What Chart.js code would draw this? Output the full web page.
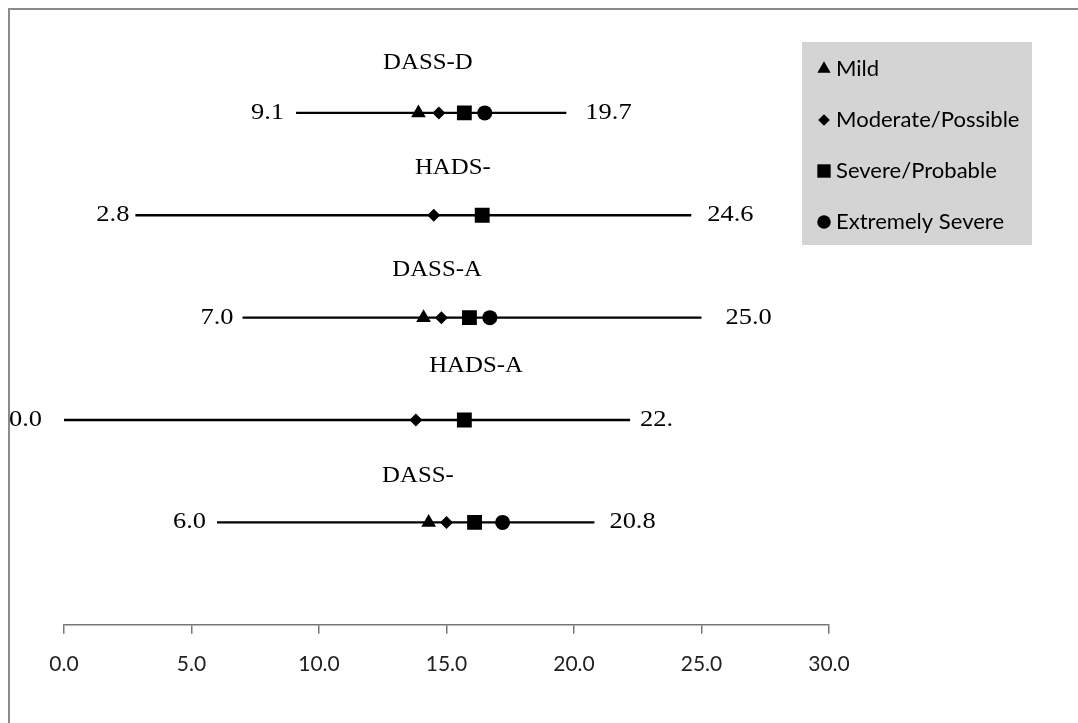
<!DOCTYPE html>
<html>
<head>
<meta charset="utf-8">
<script src="https://cdn.jsdelivr.net/npm/chart.js@4.4.1/dist/chart.umd.min.js"></script>
<style>
  html, body { margin: 0; padding: 0; background: #fff; }
  #wrap { position: relative; width: 1078px; height: 723px; }
</style>
</head>
<body>
<div id="wrap"><canvas id="ciChart"></canvas></div>
<script>
// scales, top row first
const scaleNames = ['DASS-D', 'HADS-', 'DASS-A', 'HADS-A', 'DASS-'];
const rowPos = [5, 4, 3, 2, 1];
const lowValues = [9.1, 2.8, 7.0, 0.0, 6.0];
const highValues = [19.7, 24.6, 25.0, 22.2, 20.8];
const lowLabels = ['9.1', '2.8', '7.0', '0.0', '6.0'];
const highLabels = ['19.7', '24.6', '25.0', '22.', '20.8'];

// cut-off points per severity level (null = level not defined for that scale)
const mildValues = [13.9, null, 14.1, null, 14.3];
const moderateValues = [14.7, 14.5, 14.8, 13.8, 15.0];
const severeValues = [15.7, 16.4, 15.9, 15.7, 16.1];
const extremeValues = [16.5, null, 16.7, null, 17.2];

const xTicks = [0, 5, 10, 15, 20, 25, 30];

const serif = "'Liberation Serif', 'Times New Roman', serif";
const sans = "Lato, 'Open Sans', sans-serif";

function pts(vals) {
    return vals.map((v, i) => v === null ? null : {x: v, y: rowPos[i]}).filter(p => p);
}

const levels = [
    {label: 'Mild', data: mildValues, style: 'triangle', r: 8.5},
    {label: 'Moderate/Possible', data: moderateValues, style: 'rectRot', r: 6.5},
    {label: 'Severe/Probable', data: severeValues, style: 'rect', r: 10.5},
    {label: 'Extremely Severe', data: extremeValues, style: 'circle', r: 7.5}
];

const markerSets = levels.map(l => ({
    label: l.label,
    data: pts(l.data),
    showLine: false,
    pointStyle: l.style,
    pointRadius: l.r,
    pointHoverRadius: l.r,
    backgroundColor: '#000',
    borderColor: '#000',
    borderWidth: 0,
    order: 1
}));

const rangeSets = scaleNames.map((n, i) => ({
    label: n,
    data: [{x: lowValues[i], y: rowPos[i]}, {x: highValues[i], y: rowPos[i]}],
    showLine: true,
    pointRadius: 0,
    borderColor: '#000',
    borderWidth: 2.4,
    order: 2
}));

// stretched text, the original picture is a little wide
function wideText(ctx, txt, px, py, sx) {
    ctx.save();
    ctx.translate(px, py);
    ctx.scale(sx, 1);
    ctx.fillText(txt, 0, 0);
    ctx.restore();
}

// text around each range
const rangeText = {
    id: 'rangeText',
    afterDatasetsDraw(chart) {
        const {ctx, scales: {x, y}} = chart;
        const titleAt = [14.27, 15.25, 14.63, 16.16, 13.88];
        const titleDy = [-50, -47, -48, -54, -46];
        const leftGap = [12, 6, 9, 22, 11];
        const rightGap = [19, 16, 24, 10, 15];
        ctx.save();
        ctx.fillStyle = '#000';
        ctx.font = '23px ' + serif;
        ctx.textBaseline = 'middle';
        scaleNames.forEach((n, i) => {
            const py = y.getPixelForValue(rowPos[i]);
            ctx.textAlign = 'center';
            wideText(ctx, n, x.getPixelForValue(titleAt[i]), py + titleDy[i], 1.08);
            ctx.textAlign = 'right';
            wideText(ctx, lowLabels[i], x.getPixelForValue(lowValues[i]) - leftGap[i], py, 1.15);
            ctx.textAlign = 'left';
            wideText(ctx, highLabels[i], x.getPixelForValue(highValues[i]) + rightGap[i], py, 1.15);
        });
        ctx.restore();
    }
};

// grey legend box and the frame
const boxLegend = {
    id: 'boxLegend',
    beforeDraw(chart) {
        const ctx = chart.ctx;
        ctx.save();
        ctx.strokeStyle = '#8a8a8a';
        ctx.lineWidth = 2;
        ctx.beginPath();
        ctx.moveTo(9, 723);
        ctx.lineTo(9, 9);
        ctx.lineTo(1078, 9);
        ctx.stroke();
        ctx.restore();
    },
    afterDraw(chart) {
        const ctx = chart.ctx;
        ctx.save();
        ctx.fillStyle = '#d4d4d4';
        ctx.fillRect(802, 42, 230, 203);
        ctx.font = '21px ' + sans;
        ctx.textBaseline = 'middle';
        ctx.textAlign = 'left';
        levels.forEach((l, i) => {
            const cy = 69 + i * 51;
            ctx.fillStyle = '#000';
            ctx.strokeStyle = '#000';
            Chart.helpers.drawPoint(ctx, {pointStyle: l.style, radius: l.r * 0.9, borderWidth: 0}, 824, cy);
            ctx.fillStyle = '#000';
            wideText(ctx, l.label, 836, cy, 1.05);
        });
        ctx.restore();
    }
};

new Chart(document.getElementById('ciChart'), {
    type: 'scatter',
    data: {datasets: [...markerSets, ...rangeSets]},
    options: {
        responsive: true,
        maintainAspectRatio: false,
        animation: false,
        layout: {padding: {left: 64, right: 249, top: 9, bottom: 28}},
        plugins: {legend: {display: false}, tooltip: {enabled: false}},
        scales: {
            x: {
                type: 'linear',
                min: 0,
                max: 30,
                afterBuildTicks: s => { s.ticks = xTicks.map(v => ({value: v})); },
                grid: {drawOnChartArea: false, drawTicks: true, tickLength: 9, color: '#777', lineWidth: 1.5},
                border: {color: '#777', width: 1.5},
                ticks: {
                    padding: 18,
                    color: '#222',
                    font: {family: sans, size: 21},
                    callback: v => Number(v).toFixed(1)
                }
            },
            y: {type: 'linear', min: 0, max: 6, display: false}
        }
    },
    plugins: [rangeText, boxLegend]
});
</script>
</body>
</html>
